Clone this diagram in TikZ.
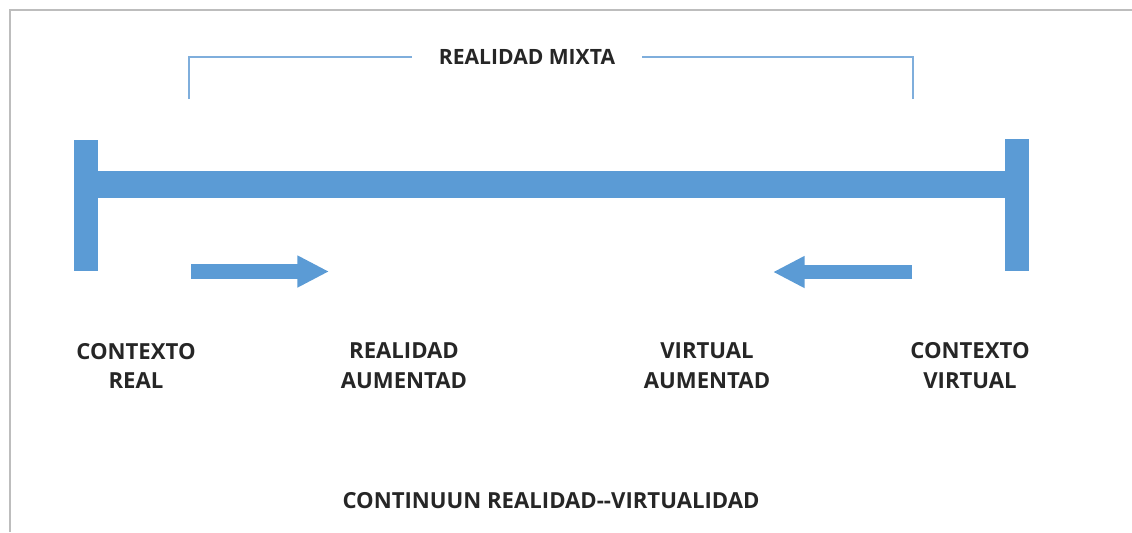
\documentclass[tikz,border=0pt]{standalone}
\usepackage{fontspec}
\setsansfont{Open Sans}
\usepackage{tikz}
\usetikzlibrary{arrows.meta, positioning}
\definecolor{mblue}{HTML}{5B9BD5}
\definecolor{mbluelight}{HTML}{7FAEDC}
\definecolor{mgray}{HTML}{BDBDBD}
\definecolor{mtext}{HTML}{262626}

\tikzset{
  stoplabel/.style={font=\fontsize{12.6}{17}\selectfont\sffamily\bfseries, text=mtext, align=center, inner sep=0pt},
  blockarrow/.style={mblue, line width=8.5pt, -{Triangle[width=17pt, length=18pt]}},
  bracketline/.style={mbluelight, line width=0.9pt}
}

\begin{document}
\begin{tikzpicture}[x=0.02cm, y=-0.02cm]

  \useasboundingbox (0,0) rectangle (1132,532);

  %% Frame (top and left edge only)
  \draw[mgray, line width=1.4pt] (10,532) -- (10,10) -- (1132,10);

  %% Continuum bar with its two stops
  \fill[mblue] (74,140) rectangle (98,271);
  \fill[mblue] (1005,139) rectangle (1029,271);
  \fill[mblue] (98,171) rectangle (1005,198);

  %% Mixed reality bracket
  \node[font=\fontsize{12}{14}\selectfont\sffamily\bfseries, text=mtext, inner xsep=15pt, inner ysep=0pt]
    (mixta) at (527,57) {REALIDAD MIXTA};
  \coordinate (lfoot) at (189,99);
  \coordinate (rfoot) at (913,99);
  \draw[bracketline] (lfoot) |- (mixta.west);
  \draw[bracketline] (rfoot) |- (mixta.east);

  %% Direction arrows
  \coordinate (ra0) at (191,271.5);
  \coordinate (ra1) at (329,271.5);
  \coordinate (la0) at (912,272);
  \coordinate (la1) at (773,272);
  \draw[blockarrow] (ra0) -- (ra1);
  \draw[blockarrow] (la0) -- (la1);

  %% Labels under the bar
  \node[stoplabel] (ctxreal) at (136,366) {CONTEXTO\\REAL};
  \node[stoplabel] (realaug) at (404,366) {REALIDAD\\AUMENTAD};
  \node[stoplabel] (virtaug) at (707,366) {VIRTUAL\\AUMENTAD};
  \node[stoplabel] (ctxvirt) at (970,366) {CONTEXTO\\VIRTUAL};

  %% Caption
  \node[font=\fontsize{12.6}{14}\selectfont\sffamily\bfseries, text=mtext, inner sep=0pt]
    (caption) at (551,501) {CONTINUUN REALIDAD-{}-VIRTUALIDAD};

\end{tikzpicture}
\end{document}
